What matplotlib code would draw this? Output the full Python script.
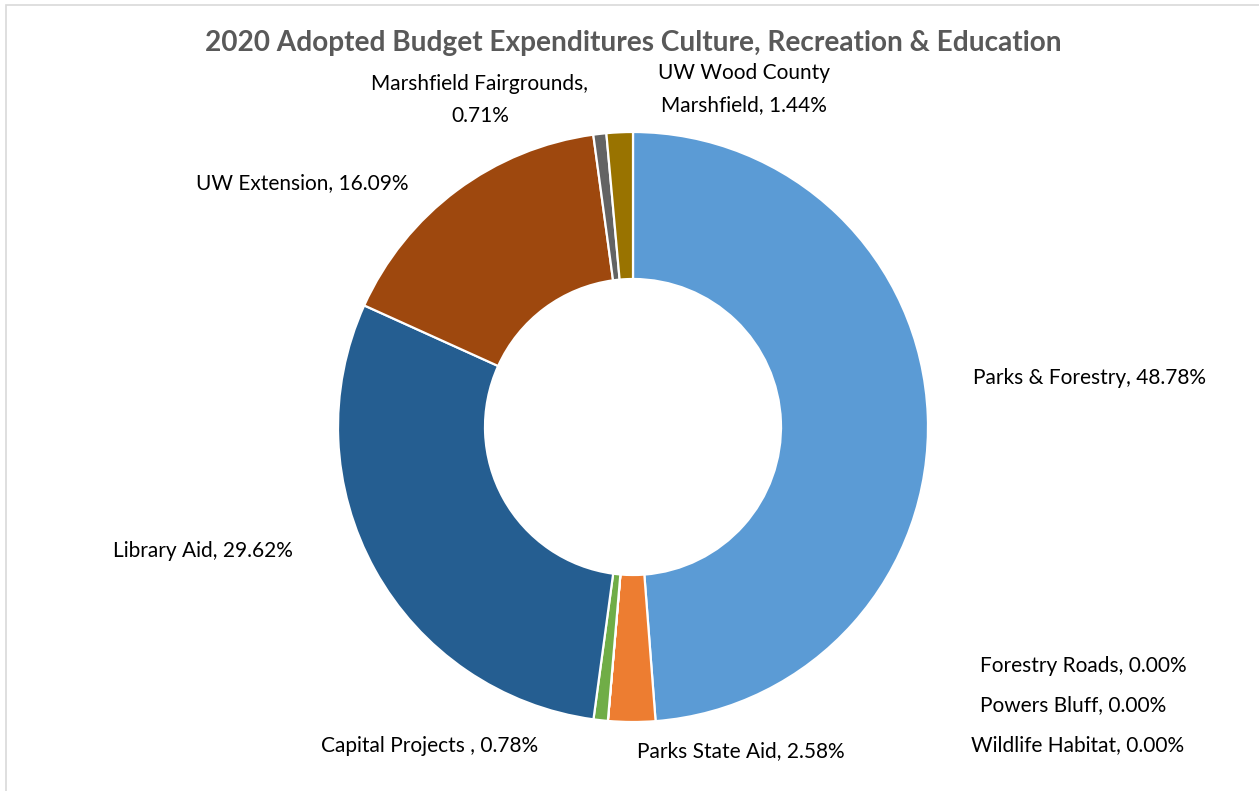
import matplotlib
matplotlib.use("Agg")
import matplotlib.pyplot as plt
from matplotlib.patches import Rectangle

# Budget categories (clockwise from 12 o'clock) and their shares in percent
categories = [
    "Parks & Forestry", "Parks State Aid", "Forestry Roads", "Powers Bluff",
    "Wildlife Habitat", "Capital Projects ", "Library Aid", "UW Extension",
    "Marshfield Fairgrounds", "UW Wood County Marshfield",
]
shares = [48.78, 2.58, 0.00, 0.00, 0.00, 0.78, 29.62, 16.09, 0.71, 1.44]
colors = [
    "#5B9BD5", "#ED7D31", "#A5A5A5", "#FFC000", "#4472C4",
    "#70AD47", "#255E91", "#9E480E", "#636363", "#997300",
]

# label anchor points (pixels, from top-left) and line breaks used in labels
label_pos = {
    "Parks & Forestry": (1090, 378),
    "Parks State Aid": (741, 751),
    "Forestry Roads": (1083, 666),
    "Powers Bluff": (1073, 705),
    "Wildlife Habitat": (1078, 745),
    "Capital Projects ": (430, 746),
    "Library Aid": (203, 551),
    "UW Extension": (302, 183),
    "Marshfield Fairgrounds": (480, 100),
    "UW Wood County Marshfield": (744, 89),
}
wrapped = {
    "Marshfield Fairgrounds": "Marshfield Fairgrounds,\n{v}",
    "UW Wood County Marshfield": "UW Wood County\nMarshfield, {v}",
}

W, H = 1259, 791
plt.rcParams["font.family"] = ["Lato", "DejaVu Sans"]
fig = plt.figure(figsize=(W / 100, H / 100), dpi=100)
ax = fig.add_axes([0, 0, 1, 1])

cx, cy = 633, H - 427
r_out, r_in = 295, 148
ax.pie(
    shares, colors=colors, startangle=90, counterclock=False,
    center=(cx, cy), radius=r_out, frame=True,
    wedgeprops=dict(width=r_out - r_in, edgecolor="white", linewidth=1.6),
)
ax.set_xlim(0, W)
ax.set_ylim(0, H)
ax.set_aspect("equal")
ax.axis("off")

for name, val in zip(categories, shares):
    v = f"{val:.2f}%"
    text = wrapped[name].format(v=v) if name in wrapped else f"{name}, {v}"
    x, y = label_pos[name]
    ax.text(x, H - y, text, ha="center", va="center", fontsize=15,
            color="#000000", linespacing=1.7)

ax.text(633, H - 43, "2020 Adopted Budget Expenditures Culture, Recreation & Education",
        ha="center", va="center", fontsize=20.2, fontweight="bold", color="#595959")

# chart frame
fig.patches.append(Rectangle((6 / W, -0.05), 1.2, (H - 5) / H + 0.05,
                             transform=fig.transFigure, fill=False,
                             edgecolor="#D9D9D9", linewidth=1.2))

fig.savefig("out.png", dpi=100)
